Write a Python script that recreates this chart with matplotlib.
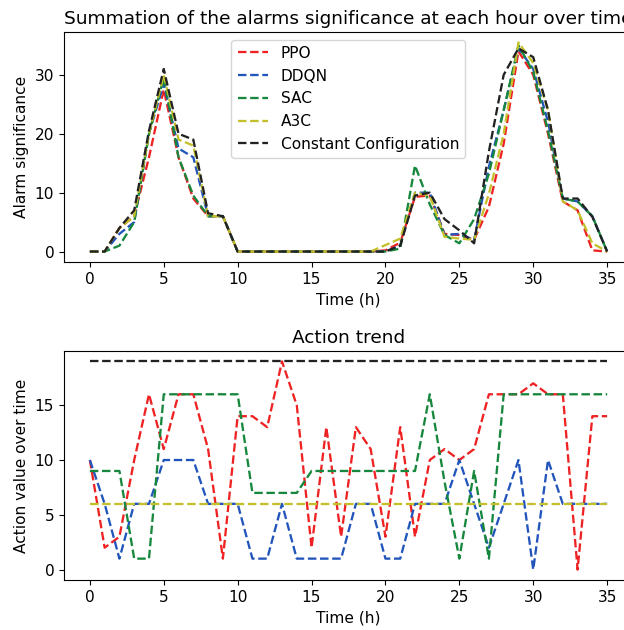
import matplotlib
matplotlib.use("Agg")
import matplotlib.pyplot as plt

plt.rcParams['font.size'] = 11.1

# hours 0..35
hours = list(range(36))

# Alarm significance per hour (top plot)
ppo_alarm = [0, 0, 4, 6, 16, 27.5, 16, 9, 6, 6,
             0, 0, 0, 0, 0, 0, 0, 0, 0, 0,
             0.2, 1.5, 9.3, 9.5, 3, 2.8, 2, 7.6, 18.3, 34,
             30, 20, 8.5, 7, 0.2, 0]
ddqn_alarm = [0, 0, 3, 5, 20, 28.5, 17.5, 16, 6, 6,
              0, 0, 0, 0, 0, 0, 0, 0, 0, 0,
              0, 1, 10, 10, 2.8, 3, 2, 14.4, 24, 34.5,
              31, 22, 9, 8.5, 6, 0]
sac_alarm = [0, 0, 1, 5, 20, 29.5, 16, 9.5, 6, 6,
             0, 0, 0, 0, 0, 0, 0, 0, 0, 0,
             0, 0.5, 14.6, 8, 2.8, 1.4, 5.5, 13.2, 24, 35,
             30.5, 20.5, 9, 8.5, 6, 0]
a3c_alarm = [0, 0, 4, 6, 20, 30, 19, 18, 6, 6,
             0, 0, 0, 0, 0, 0, 0, 0, 0, 0,
             1.1, 2.2, 10, 9.5, 2.5, 2.2, 2, 9.8, 20, 35.5,
             32, 24, 8.5, 7, 1.4, 0]
const_alarm = [0, 0, 4, 7, 20.5, 31, 20, 19, 6.5, 6,
               0, 0, 0, 0, 0, 0, 0, 0, 0, 0,
               0, 1, 9.5, 10, 5.5, 3.6, 1.4, 17, 30, 34.5,
               33, 24, 9, 9, 5.9, 0]

# Action values per hour (bottom plot)
ppo_action = [10, 2, 3, 10, 16, 11, 16, 16, 11, 1,
              14, 14, 13, 19, 15, 2, 13, 3, 13, 11,
              3, 13, 3, 10, 11, 10, 11, 16, 16, 16,
              17, 16, 16, 0, 14, 14]
ddqn_action = [10, 6, 1, 6, 6, 10, 10, 10, 6, 6,
               6, 1, 1, 6, 1, 1, 1, 1, 6, 6,
               1, 1, 6, 6, 6, 10, 6, 2, 6, 10,
               0, 10, 6, 6, 6, 6]
sac_action = [9, 9, 9, 1, 1, 16, 16, 16, 16, 16,
              16, 7, 7, 7, 7, 9, 9, 9, 9, 9,
              9, 9, 9, 16, 8, 1, 9, 1, 16, 16,
              16, 16, 16, 16, 16, 16]
a3c_action = [6] * 36
const_action = [19] * 36

labels = ['PPO', 'DDQN', 'SAC', 'A3C', 'Constant Configuration']
colors = ['#ee2222', '#2255bb', '#16873c', '#c4c02c', '#222222']

fig = plt.figure(figsize=(6.24, 6.3), dpi=100)
ax1 = fig.add_axes([64 / 624, 1 - 262 / 630, 569 / 624, 230 / 630])
ax2 = fig.add_axes([64 / 624, 1 - 580 / 630, 569 / 624, 229 / 630])

# Plot 1: alarms
alarm_series = [ppo_alarm, ddqn_alarm, sac_alarm, a3c_alarm, const_alarm]
for vals, lab, c in zip(alarm_series, labels, colors):
    ax1.plot(hours, vals, '--', color=c, label=lab, linewidth=1.65)
ax1.set_title('Summation of the alarms significance at each hour over time')
ax1.set_xlabel('Time (h)')
ax1.set_ylabel('Alarm significance')
ax1.legend(loc='upper center')

# Plot 2: actions
action_series = [ppo_action, ddqn_action, sac_action, a3c_action, const_action]
for vals, lab, c in zip(action_series, labels, colors):
    ax2.plot(hours, vals, '--', color=c, label=lab, linewidth=1.65)
ax2.set_title('Action trend')
ax2.set_xlabel('Time (h)')
ax2.set_ylabel('Action value over time')

fig.savefig('out.png', dpi=100)
